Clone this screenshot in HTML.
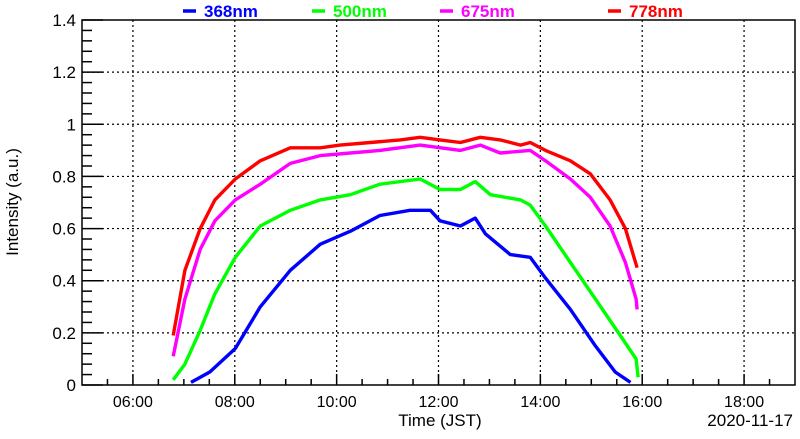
<!DOCTYPE html>
<html><head><meta charset="utf-8"><style>
body{margin:0;background:#fff;width:800px;height:434px;overflow:hidden}
svg{font-family:"Liberation Sans",Arial,sans-serif}
</style></head><body>
<svg id="chart" width="800" height="434" viewBox="0 0 800 434" xmlns="http://www.w3.org/2000/svg">
<g id="grid"></g>
<g id="axes"></g>
<g id="series"></g>
<g id="legend"></g>
<text transform="translate(18,202) rotate(-90)" text-anchor="middle" style="font-size:17px">Intensity (a.u.)</text>
<text x="440" y="426" text-anchor="middle" style="font-size:17px">Time (JST)</text>
<text x="793" y="426" text-anchor="end" style="font-size:17px">2020-11-17</text>
</svg>
<script>
const yTicks=[0,0.2,0.4,0.6,0.8,1,1.2,1.4];
const yTickLabels=["0","0.2","0.4","0.6","0.8","1","1.2","1.4"];
const xTicks=[6,8,10,12,14,16,18];
const xTickLabels=["06:00","08:00","10:00","12:00","14:00","16:00","18:00"];
const names=["368nm","500nm","675nm","778nm"];
const colors=["#0000ff","#00ff00","#ff00ff","#ff0000"];
const t368=[7.14,7.51,8.01,8.50,9.09,9.68,10.27,10.85,11.44,11.84,12.03,12.43,12.72,12.92,13.41,13.80,14.10,14.59,15.08,15.47,15.77];
const v368=[0.01,0.05,0.14,0.30,0.44,0.54,0.59,0.65,0.67,0.67,0.63,0.61,0.64,0.58,0.50,0.49,0.41,0.29,0.15,0.05,0.01];
const t500=[6.79,7.02,7.32,7.61,8.01,8.50,9.09,9.68,10.27,10.85,11.64,12.03,12.43,12.72,13.02,13.61,13.80,14.10,14.59,15.08,15.57,15.88,15.92];
const v500=[0.02,0.08,0.21,0.35,0.49,0.61,0.67,0.71,0.73,0.77,0.79,0.75,0.75,0.78,0.73,0.71,0.69,0.61,0.47,0.33,0.19,0.10,0.03];
const t675=[6.79,7.02,7.32,7.61,8.01,8.50,9.09,9.68,10.27,10.85,11.64,12.43,12.82,13.21,13.80,14.10,14.59,14.98,15.37,15.67,15.88,15.90];
const v675=[0.11,0.33,0.52,0.63,0.71,0.77,0.85,0.88,0.89,0.90,0.92,0.90,0.92,0.89,0.90,0.86,0.79,0.72,0.61,0.47,0.33,0.29];
const t778=[6.79,7.02,7.32,7.61,8.01,8.50,9.09,9.68,10.07,10.66,11.25,11.64,12.03,12.43,12.82,13.21,13.61,13.80,14.10,14.59,14.98,15.37,15.67,15.90];
const v778=[0.19,0.44,0.60,0.71,0.79,0.86,0.91,0.91,0.92,0.93,0.94,0.95,0.94,0.93,0.95,0.94,0.92,0.93,0.90,0.86,0.81,0.71,0.60,0.45];
const ts=[t368,t500,t675,t778], vs=[v368,v500,v675,v778];
const X0=82,X1=795,Y0=385,Y1=20,HMIN=5,HMAX=19,VMAX=1.4;
const sx=h=>X0+(h-HMIN)/(HMAX-HMIN)*(X1-X0);
const sy=v=>Y0-v/VMAX*(Y0-Y1);
const NS="http://www.w3.org/2000/svg";
function mk(tag,attrs,parent){const e=document.createElementNS(NS,tag);for(const k in attrs)e.setAttribute(k,attrs[k]);parent.appendChild(e);return e;}
const grid=document.getElementById('grid'),axes=document.getElementById('axes'),series=document.getElementById('series'),legend=document.getElementById('legend');
yTicks.forEach((v,i)=>{
  if(v>0&&v<VMAX){const g=mk('line',{x1:X0,x2:X1,y1:sy(v),y2:sy(v),stroke:'#000','stroke-dasharray':'2,3','stroke-width':1.2},grid);
  
  }
  const tk=mk('line',{x1:X0,x2:X0+21,y1:sy(v),y2:sy(v),stroke:'#000','stroke-width':1.5},axes);
  
  
  const lb=mk('text',{x:X0-6,y:sy(v)+6,'text-anchor':'end',style:'font-size:17px'},axes);
  lb.textContent=yTickLabels[i];
  
  
  if(i<yTicks.length-1){for(let k=1;k<5;k++){const mv=v+k*0.04;
    const m=mk('line',{x1:X0,x2:X0+10,y1:sy(mv),y2:sy(mv),stroke:'#000','stroke-width':1.5},axes);
    
    }}
});
xTicks.forEach((h,i)=>{
  const g=mk('line',{x1:sx(h),x2:sx(h),y1:Y1,y2:Y0,stroke:'#000','stroke-dasharray':'2,3','stroke-width':1.2},grid);
  
  
  const lb=mk('text',{x:sx(h),y:Y0+22,'text-anchor':'middle',style:'font-size:16px'},axes);
  lb.textContent=xTickLabels[i];
  
  
});
for(let h=HMIN+0.5;h<HMAX;h+=0.5){const major=Math.abs(h-Math.round(h))<0.01&&Math.round(h)%2===0;
  const len=major?11:6;
  const m=mk('line',{x1:sx(h),x2:sx(h),y1:Y0,y2:Y0-len,stroke:'#000','stroke-width':1.5},axes);
  
  }
const fr=mk('rect',{x:X0,y:Y1,width:X1-X0,height:Y0-Y1,fill:'none',stroke:'#000','stroke-width':1.5},axes);


ts.forEach((t,s)=>{
  const d=t.map((h,i)=>(i?'L':'M')+sx(h).toFixed(1)+','+sy(vs[s][i]).toFixed(1)).join(' ');
  const p=mk('path',{d:d,fill:'none',stroke:colors[s],'stroke-width':3.4,'stroke-linejoin':'round'},series);
  
  
});
const lx=[183,312,440,608];
names.forEach((n,i)=>{
  const l=mk('line',{x1:lx[i],x2:lx[i]+13,y1:11,y2:11,stroke:colors[i],'stroke-width':3.5},legend);
  
  
  const tx=mk('text',{x:lx[i]+21,y:17,'font-weight':'bold',fill:colors[i],style:'font-size:17px'},legend);
  tx.textContent=n;
  
  
});
</script>
</body></html>
